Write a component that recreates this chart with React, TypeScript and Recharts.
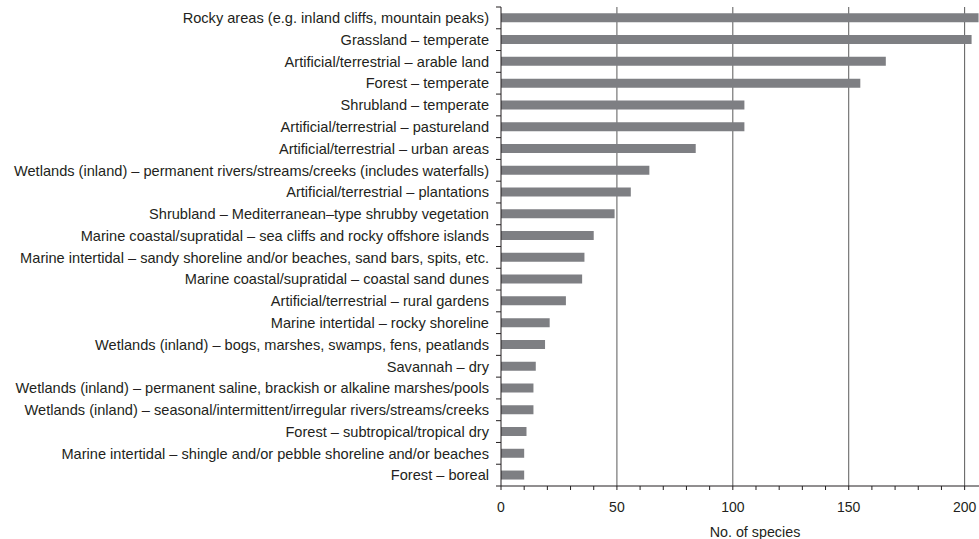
import React from 'react';
import { BarChart, Bar, XAxis, YAxis, CartesianGrid } from 'recharts';

const categories = [
  'Rocky areas (e.g. inland cliffs, mountain peaks)',
  'Grassland – temperate',
  'Artificial/terrestrial – arable land',
  'Forest – temperate',
  'Shrubland – temperate',
  'Artificial/terrestrial – pastureland',
  'Artificial/terrestrial – urban areas',
  'Wetlands (inland) – permanent rivers/streams/creeks (includes waterfalls)',
  'Artificial/terrestrial – plantations',
  'Shrubland – Mediterranean–type shrubby vegetation',
  'Marine coastal/supratidal – sea cliffs and rocky offshore islands',
  'Marine intertidal – sandy shoreline and/or beaches, sand bars, spits, etc.',
  'Marine coastal/supratidal – coastal sand dunes',
  'Artificial/terrestrial – rural gardens',
  'Marine intertidal – rocky shoreline',
  'Wetlands (inland) – bogs, marshes, swamps, fens, peatlands',
  'Savannah – dry',
  'Wetlands (inland) – permanent saline, brackish or alkaline marshes/pools',
  'Wetlands (inland) – seasonal/intermittent/irregular rivers/streams/creeks',
  'Forest – subtropical/tropical dry',
  'Marine intertidal – shingle and/or pebble shoreline and/or beaches',
  'Forest – boreal',
];

const speciesCounts = [206, 203, 166, 155, 105, 105, 84, 64, 56, 49, 40, 36, 35, 28, 21, 19, 15, 14, 14, 11, 10, 10];

const xTicks = [0, 10, 20, 30, 40, 50, 60, 70, 80, 90, 100, 110, 120, 130, 140, 150, 160, 170, 180, 190, 200];
const gridValues = [50, 100, 150, 200];
const xDomainMax = 206.2;

const data = categories.map((name, i) => ({ name, value: speciesCounts[i] }));

const W = 979;
const H = 539;
const MARGIN = { top: 7, right: 0, bottom: 13, left: 0 };
const X_AXIS_H = 40;
const Y_AXIS_W = 501;
const FONT = '"Liberation Sans", Arial, Helvetica, sans-serif';
const TEXT = '#231f20';

const plotH = H - MARGIN.top - MARGIN.bottom - X_AXIS_H;
const band = plotH / categories.length;

const YTick = (props: any) => {
  const { x, y, payload, index } = props;
  const top = y - band / 2;
  return (
    <g>
      <line x1={Y_AXIS_W - 5} x2={Y_AXIS_W} y1={top} y2={top} stroke={TEXT} strokeWidth={1} />
      {index === categories.length - 1 && (
        <line x1={Y_AXIS_W - 5} x2={Y_AXIS_W} y1={y + band / 2} y2={y + band / 2} stroke={TEXT} strokeWidth={1} />
      )}
      <text x={x - 4} y={y} dy="0.36em" textAnchor="end" fontSize={14.6} fill={TEXT} fontFamily={FONT}>
        {payload.value}
      </text>
    </g>
  );
};

const XTick = (props: any) => {
  const { x, y, payload } = props;
  if (payload.value % 50 !== 0) return <g />;
  return (
    <text x={x} y={y + 19.5} textAnchor="middle" fontSize={14} fill={TEXT} fontFamily={FONT}>
      {payload.value}
    </text>
  );
};

const gridGen = (args: any) => {
  const off = args.offset || {};
  const sc = args.xAxis && args.xAxis.scale;
  return gridValues.map((v) => {
    if (typeof sc === 'function') return sc(v);
    if (sc && typeof sc.map === 'function') return sc.map(v);
    return off.left + (v / xDomainMax) * off.width;
  });
};

export default function App() {
  return (
    <div style={{ position: 'absolute', left: 0, top: 0, background: '#fff' }}>
      <BarChart
        width={W}
        height={H}
        data={data}
        layout="vertical"
        margin={MARGIN}
        barCategoryGap="29%"
      >
        <CartesianGrid
          horizontal={false}
          vertical={true}
          stroke="#5a5a5a"
          strokeWidth={1}
          verticalCoordinatesGenerator={gridGen}
        />
        <XAxis
          type="number"
          domain={[0, xDomainMax]}
          ticks={xTicks}
          interval={0}
          height={X_AXIS_H}
          tick={<XTick />}
          tickSize={4}
          axisLine={{ stroke: TEXT }}
          tickLine={{ stroke: TEXT }}
          allowDataOverflow
          label={{ value: 'No. of species', position: 'insideBottom', offset: -11, dx: 15, fontSize: 14.3, fill: TEXT, fontFamily: FONT }}
        />
        <YAxis
          type="category"
          dataKey="name"
          width={Y_AXIS_W}
          interval={0}
          tick={<YTick />}
          tickLine={false}
          axisLine={{ stroke: TEXT }}
        />
        <Bar dataKey="value" fill="#7e7f83" isAnimationActive={false} />
      </BarChart>
    </div>
  );
}
